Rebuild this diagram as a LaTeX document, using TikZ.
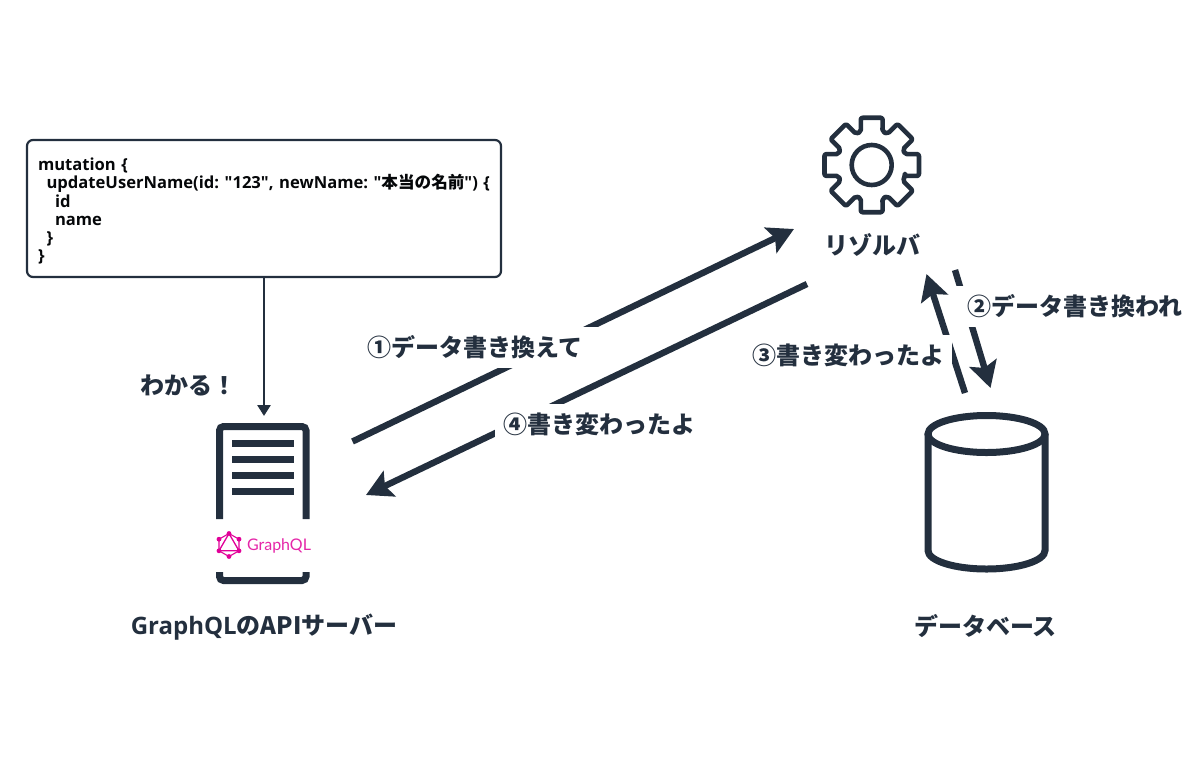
\documentclass[tikz,border=0pt]{standalone}
\usepackage{fontspec}
\usetikzlibrary{arrows.meta}
\setmainfont{Open Sans}[Ligatures=TeXOff]
\newfontfamily\jpfont{Noto Sans CJK JP}
\newfontfamily\logofont{Lato}
\definecolor{ink}{HTML}{232F3E}
\definecolor{qlpink}{HTML}{E10098}
\newcommand{\jp}[1]{{\jpfont #1}}
\frenchspacing
\begin{document}
\begin{tikzpicture}[
      x=1pt,y=-1pt,
      every node/.style={inner sep=0pt,text=ink,font=\fontsize{24}{28}\selectfont\bfseries},
      flow/.style={draw=ink,line width=6.4pt,-{Stealth[length=26pt,width=28pt,inset=5pt]}},
      icon/.style={draw=ink,line width=7pt},
      gearline/.style={draw=ink,line width=4.6pt,line join=round},
      lbl/.style={fill=white,inner xsep=8pt,minimum height=41pt}
    ]
      \useasboundingbox (0,0) rectangle (1200,780);
      % query box
      \node (query) at (264,208.5) [draw=ink,line width=2.2pt,rounded corners=6pt,
        minimum width=474pt,minimum height=137pt,text width=452pt,align=left,text=black!85!ink,
        font=\fontsize{16.6}{18.2}\selectfont\bfseries] {\rule{0pt}{18pt}mutation \{\\
        \mbox{\hspace*{8.5pt}updateUserName(id: "123", newName: "\jp{本当の名前}") \{}\\
        \hspace*{17pt}id\\
        \hspace*{17pt}name\\
        \hspace*{8.5pt}\}\\
        \}};
      \coordinate (servertop) at (264,416);
      \draw[draw=ink,line width=2.6pt,-{Stealth[length=11pt,width=13pt,inset=0pt]}] (query.south) -- (servertop);
      % server icon
      \draw[icon,rounded corners=4pt] (219.5,519) -- (219.5,426.5) -- (306,426.5) -- (306,519);
      \draw[icon,rounded corners=4pt] (219.5,572) -- (219.5,580.5) -- (306,580.5) -- (306,572);
      \foreach \y in {443,459,475,491}
        \fill[ink] (232,\y-3.5) rectangle (293.5,\y+3.5);
      % logo
      \draw[qlpink,line width=1.3pt] (229,533.5) -- (239,550.8) -- (219,550.8) -- cycle;
      \draw[qlpink,line width=1.1pt] (229,533.5) -- (239,539.2) -- (239,550.8) -- (229,556.5) -- (219,550.8) -- (219,539.2) -- cycle;
      \foreach \x/\y in {229/533.5,239/539.2,239/550.8,229/556.5,219/550.8,219/539.2}
        \fill[qlpink] (\x,\y) circle (2.4pt);
      \node (logotext) at (279,546) [font=\fontsize{16}{18}\logofont,text=qlpink!85!white] {GraphQL};
      \node (server) at (264,627) {GraphQL\jp{のAPIサーバー}};
      \node (aware) at (188,385) {\jp{わかる！}};
      % resolver icon
      \draw[gearline,rounded corners=2pt,shift={(871.7,165)}] (18:35)
        \foreach \a in {45,90,...,360} { -- (\a-18:35) -- (\a-13:48.5) -- (\a+13:48.5) -- (\a+18:35) } -- cycle;
      \draw[gearline] (871.7,165) circle (20pt);
      \node (resolver) at (872,245) {\jp{リゾルバ}};
      % database icon
      \draw[icon] (986.5,434) ellipse (58.5pt and 18.5pt);
      \draw[icon] (928,434) -- (928,550.5) arc[start angle=180,end angle=360,x radius=58.5pt,y radius=18.5pt] -- (1045,434);
      \node (database) at (985.5,626.5) {\jp{データベース}};
      % flows
      \coordinate (s1) at (352.5,441.5);
      \coordinate (t1) at (794,229);
      \coordinate (s4) at (807,284);
      \coordinate (t4) at (366,495);
      \coordinate (s2) at (955,270);
      \coordinate (t2) at (990.5,388);
      \coordinate (s3) at (965,393);
      \coordinate (t3) at (926.5,274);
      \draw[flow] (s1) -- (t1);
      \draw[flow] (s4) -- (t4);
      \draw[flow] (s2) -- (t2);
      \draw[flow] (s3) -- (t3);
      \node (one) at (475,347) [lbl,inner xsep=20pt] {\jp{①データ書き換えて}};
      \node (two) at (1075,306.5) [lbl,inner xsep=15pt] {\jp{②データ書き換われ}};
      \node (three) at (848,355) [lbl,minimum height=40pt] {\jp{③書き変わったよ}};
      \node (four) at (599,424) [lbl,minimum height=40pt] {\jp{④書き変わったよ}};
    \end{tikzpicture}
\end{document}
